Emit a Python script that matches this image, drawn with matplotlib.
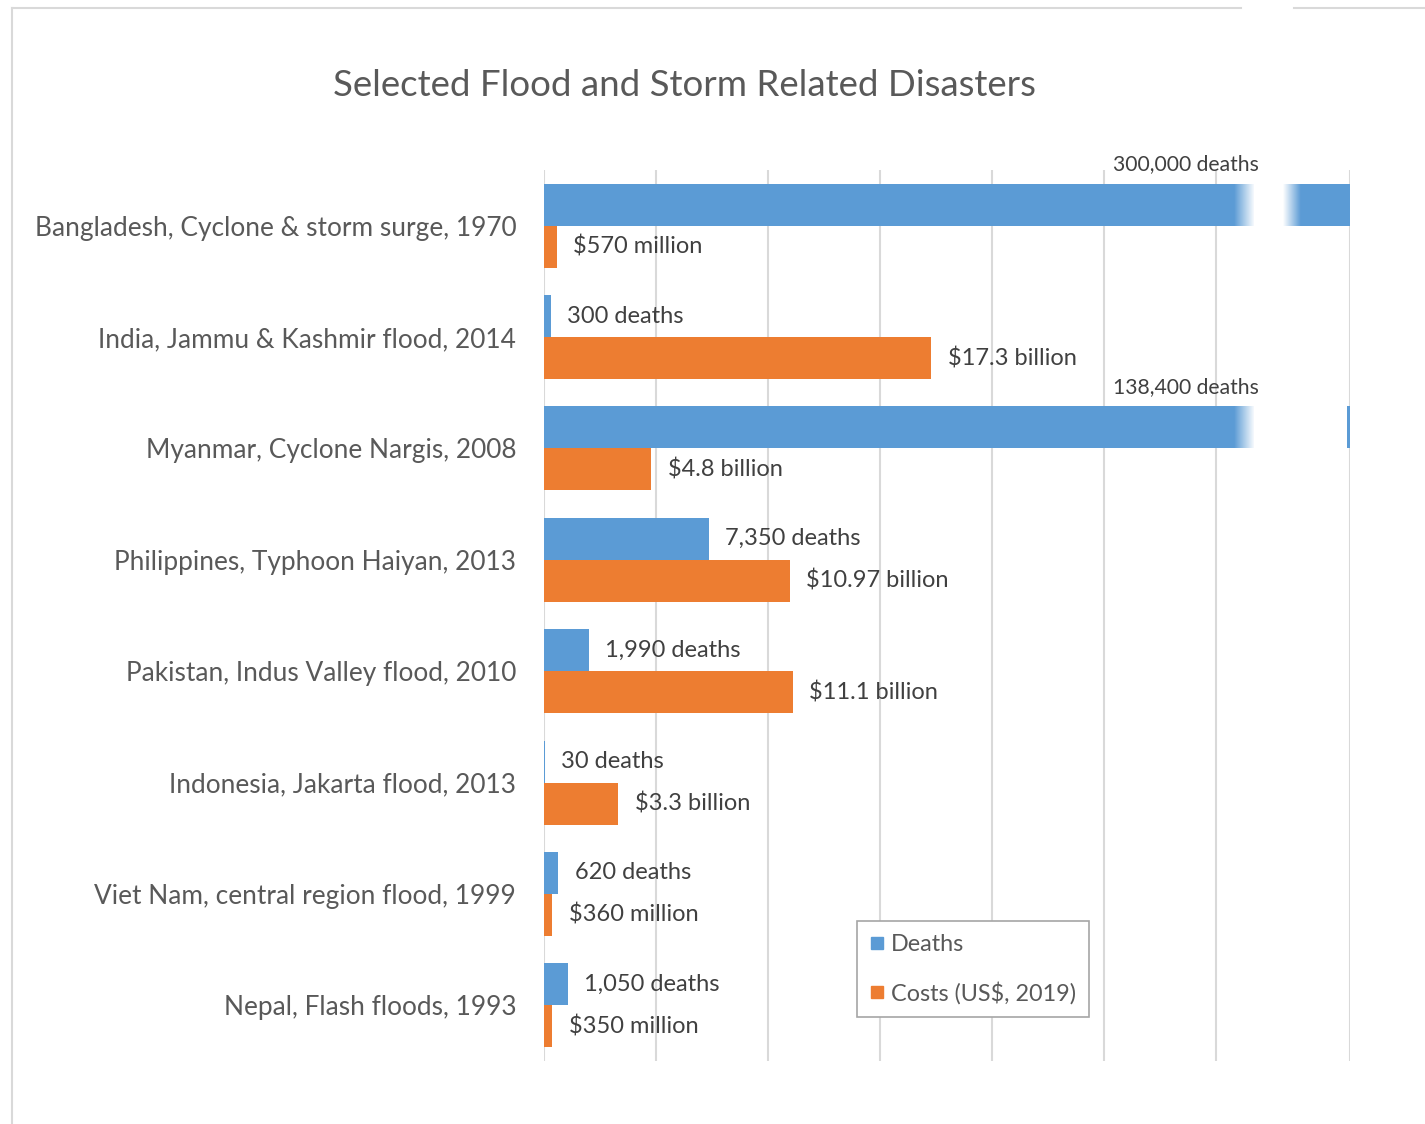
import matplotlib.pyplot as plt
import numpy as np
from matplotlib.lines import Line2D

# Disasters, top to bottom
events = [
    "Bangladesh, Cyclone & storm surge, 1970",
    "India, Jammu & Kashmir flood, 2014",
    "Myanmar, Cyclone Nargis, 2008",
    "Philippines, Typhoon Haiyan, 2013",
    "Pakistan, Indus Valley flood, 2010",
    "Indonesia, Jakarta flood, 2013",
    "Viet Nam, central region flood, 1999",
    "Nepal, Flash floods, 1993",
]
# deaths in thousands, costs in billions of US$ (shared axis)
deaths = [300, 0.3, 138.4, 7.35, 1.99, 0.03, 0.62, 1.05]
costs = [0.57, 17.3, 4.8, 10.97, 11.1, 3.3, 0.36, 0.35]
death_labels = ["300,000 deaths", "300 deaths", "138,400 deaths", "7,350 deaths",
                "1,990 deaths", "30 deaths", "620 deaths", "1,050 deaths"]
cost_labels = ["$570 million", "$17.3 billion", "$4.8 billion", "$10.97 billion",
               "$11.1 billion", "$3.3 billion", "$360 million", "$350 million"]

BLUE = "#5B9BD5"
ORANGE = "#ED7D31"
GRID = "#D9D9D9"
TXT = "#404040"
FONT = "Lato"
XMAX = 36

W, H = 1425, 1124
fig = plt.figure(figsize=(W / 100, H / 100), dpi=100)
plt.rcParams['font.family'] = [FONT, 'DejaVu Sans']

# chart area border (left and top edges), top edge interrupted at the axis break
fig.add_artist(Line2D([12 / W, 12 / W], [0, 1 - 8 / H], color=GRID, lw=1.5))
fig.add_artist(Line2D([12 / W, 1241 / W], [1 - 8 / H, 1 - 8 / H], color=GRID, lw=1.5))
fig.add_artist(Line2D([1294 / W, 1], [1 - 8 / H, 1 - 8 / H], color=GRID, lw=1.5))

ax = fig.add_axes([544 / W, (H - 1061) / H, 806 / W, (1061 - 170) / H])

y = np.arange(len(events))
bh = 0.377
ax.barh(y - bh / 2, deaths, height=bh, color=BLUE, label="Deaths", zorder=2)
ax.barh(y + bh / 2, costs, height=bh, color=ORANGE, label="Costs (US$, 2019)", zorder=2)

ax.set_xlim(0, XMAX)
ax.set_ylim(len(events) - 0.5, -0.5)
ax.set_xticks([0, 5, 10, 15, 20, 25, 30, XMAX])
ax.xaxis.grid(True, color=GRID, lw=1.5, zorder=0)
ax.set_axisbelow(True)
ax.tick_params(axis='x', length=0, labelbottom=False)
ax.tick_params(axis='y', length=0, labelsize=18.9, labelcolor="#595959", pad=20)
ax.set_yticks(y)
ax.set_yticklabels(events)
for s in ax.spines.values():
    s.set_visible(False)

# white fade to show the broken bars that run off the scale
def fade(x0, x1, yc, out=True):
    a = np.linspace(0, 1, 64) if out else np.linspace(1, 0, 64)
    img = np.ones((1, 64, 4))
    img[0, :, 3] = a
    ax.imshow(img, extent=[x0, x1, yc + 0.2, yc - 0.2], aspect='auto',
              zorder=3, interpolation='bilinear')

for i, d in enumerate(deaths):
    if d > XMAX:
        yc = i - bh / 2
        fade(30.8, 31.7, yc, out=True)
        if d > 200:
            ax.barh(yc, 33.0 - 31.7, left=31.7, height=0.4, color="white", zorder=3)
            fade(33.0, 33.8, yc, out=False)
        else:
            ax.barh(yc, 35.85 - 31.7, left=31.7, height=0.4, color="white", zorder=3)
        ax.annotate(death_labels[i], (25.4, yc - bh / 2), xytext=(0, 14),
                    textcoords='offset points', va='center', ha='left',
                    fontsize=15.2, color=TXT)
    else:
        ax.annotate(death_labels[i], (d, i - bh / 2), xytext=(12, 0),
                    textcoords='offset points', va='center', ha='left',
                    fontsize=17, color=TXT)

for i, c in enumerate(costs):
    ax.annotate(cost_labels[i], (c, i + bh / 2), xytext=(12, 0),
                textcoords='offset points', va='center', ha='left',
                fontsize=17, color=TXT)

ax.set_xlim(0, XMAX)
ax.set_ylim(len(events) - 0.5, -0.5)

handles = [Line2D([], [], marker='s', ls='', color=BLUE, markersize=9),
           Line2D([], [], marker='s', ls='', color=ORANGE, markersize=9)]
leg = fig.legend(handles, ["Deaths", "Costs (US$, 2019)"], loc='upper left',
                 bbox_to_anchor=(857 / W, 1 - 921 / H), fontsize=16.8,
                 labelspacing=1.15, handlelength=0.6, handletextpad=0.3,
                 borderpad=0.55, borderaxespad=0, fancybox=False, framealpha=1,
                 labelcolor="#595959")
leg.get_frame().set_edgecolor("#A6A6A6")
leg.get_frame().set_linewidth(1.2)

fig.text(684 / W, 1 - 86 / H, "Selected Flood and Storm Related Disasters",
         ha='center', va='center', fontsize=26.4, color="#595959")

plt.savefig('out.png', dpi=100)
